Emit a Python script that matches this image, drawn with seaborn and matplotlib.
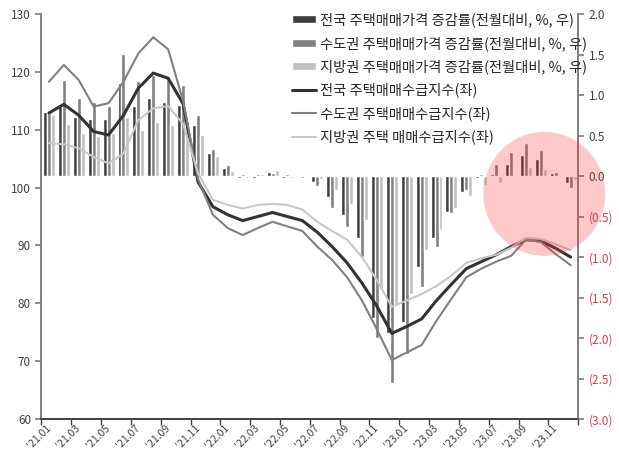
import numpy as np
import pandas as pd
import matplotlib
matplotlib.use('Agg')
import matplotlib.pyplot as plt
import seaborn as sns
from matplotlib.patches import Ellipse
from matplotlib.ticker import FixedLocator

# 월 (2021.01 ~ 2023.12)
months = [f"'{y}.{m:02d}" for y in (21, 22, 23) for m in range(1, 13)]

# 주택매매가격 증감률 (전월대비, %, 우축)
price_nat = [0.79, 0.89, 0.73, 0.71, 0.70, 1.15, 0.86, 0.96, 0.91, 0.88, 0.63, 0.29,
             0.10, -0.02, -0.02, 0.05, -0.02, -0.01, -0.07, -0.26, -0.48, -0.76, -1.75, -1.94,
             -1.80, -1.12, -0.77, -0.44, -0.20, -0.03, 0.03, 0.15, 0.26, 0.21, 0.04, -0.09]
price_cap = [0.78, 1.18, 0.96, 0.91, 0.86, 1.51, 1.17, 1.25, 1.23, 1.13, 0.76, 0.33,
             0.14, 0.03, 0.03, 0.04, 0.02, -0.02, -0.12, -0.39, -0.63, -1.00, -2.00, -2.56,
             -2.20, -1.37, -0.88, -0.46, -0.17, 0.03, 0.15, 0.30, 0.41, 0.32, 0.05, -0.15]
price_loc = [0.75, 0.64, 0.53, 0.49, 0.53, 0.73, 0.57, 0.67, 0.63, 0.67, 0.51, 0.25,
             0.06, -0.03, 0.02, 0.07, -0.02, 0.01, -0.04, -0.17, -0.34, -0.54, -1.40, -1.60,
             -1.45, -0.91, -0.67, -0.40, -0.25, -0.11, -0.08, 0.01, 0.11, 0.09, 0.01, -0.05]

# 주택매매수급지수 (좌축)
idx_nat = [112.9, 114.4, 112.5, 109.7, 109.1, 112.5, 117.2, 119.8, 118.9, 114.5, 101.0, 96.7,
           95.3, 94.3, 95.0, 95.7, 95.0, 94.3, 92.3, 89.8, 87.0, 83.5, 79.5, 74.8,
           76.0, 77.3, 80.5, 83.3, 86.0, 87.2, 88.4, 89.8, 91.0, 90.8, 89.5, 88.0]
idx_cap = [118.3, 121.2, 118.6, 114.0, 114.6, 118.3, 123.2, 126.0, 123.9, 115.0, 101.5, 95.3,
           93.0, 91.8, 93.0, 94.1, 93.3, 92.5, 89.8, 87.5, 84.5, 80.5, 75.5, 70.2,
           71.5, 72.8, 77.0, 80.8, 84.5, 86.0, 87.2, 88.2, 91.0, 90.6, 88.5, 86.6]
idx_loc = [107.7, 107.5, 106.8, 105.3, 104.2, 105.9, 111.7, 113.7, 114.1, 111.0, 102.5, 97.9,
           97.0, 96.4, 97.0, 97.2, 97.0, 96.2, 94.1, 92.5, 91.0, 88.0, 84.0, 79.4,
           80.5, 81.6, 83.0, 84.8, 87.0, 87.8, 88.4, 89.6, 91.3, 91.1, 90.2, 89.2]

bar_names = ['전국 주택매매가격 증감률(전월대비, %, 우)',
             '수도권 주택매매가격 증감률(전월대비, %, 우)',
             '지방권 주택매매가격 증감률(전월대비, %, 우)']
line_names = ['전국 주택매매수급지수(좌)',
              '수도권 주택매매수급지수(좌)',
              '지방권 주택 매매수급지수(좌)']
bar_colors = ['#3c3c3c', '#7f7f7f', '#c0c0c0']
line_colors = ['#333333', '#808080', '#c8c8c8']
line_widths = [2.2, 1.5, 1.5]

sns.set_theme(style='white')
plt.rcParams['font.family'] = ['Noto Sans CJK KR', 'DejaVu Sans']

bars = pd.DataFrame({
    'month': months * 3,
    'value': price_nat + price_cap + price_loc,
    'series': np.repeat(bar_names, len(months)),
})

fig = plt.figure(figsize=(6.19, 4.54), dpi=100)
ax = fig.add_axes([0.067, 0.077, 0.867, 0.892])
ax2 = ax.twinx()

# 막대 (우축)
sns.barplot(data=bars, x='month', y='value', hue='series', order=months,
            hue_order=bar_names, palette=bar_colors, width=0.8, gap=0,
            saturation=1, ax=ax, legend=True)
bar_h, bar_l = ax.get_legend_handles_labels()
ax.get_legend().remove()

# 선 (좌축)
pos = np.arange(len(months))
for vals, name, c, lw in zip([idx_nat, idx_cap, idx_loc], line_names, line_colors, line_widths):
    sns.lineplot(x=pos, y=vals, color=c, linewidth=lw, label=name, ax=ax2)
line_h, line_l = ax2.get_legend_handles_labels()
ax2.get_legend().remove()

# 축 설정: 막대 축은 오른쪽, 선 축은 왼쪽
ax.set_ylim(-3.0, 2.0)
ax.set_yticks(np.arange(-3.0, 2.01, 0.5))
ax.yaxis.tick_right()
ax.yaxis.set_label_position('right')
ax.set_yticklabels([f'({abs(v):.1f})' if v < -1e-9 else f'{v:.1f}' for v in ax.get_yticks()])
for t, v in zip(ax.get_yticklabels(), ax.get_yticks()):
    t.set_color('#e03c3c' if v < -1e-9 else '#404040')

ax2.set_ylim(60, 130)
ax2.set_yticks(range(60, 131, 10))
ax2.yaxis.tick_left()
ax2.yaxis.set_label_position('left')

ax.set_xlim(-0.5, len(months) - 0.5)
ax.set_xticks(pos[::2])
ax.set_xticklabels(months[::2], rotation=45, ha='right', va='center', rotation_mode='anchor')
ax.xaxis.set_minor_locator(FixedLocator(np.arange(-0.5, len(months), 2)))
ax.tick_params(axis='x', which='major', length=0, labelsize=7.5, colors='#404040', pad=5)
ax.tick_params(axis='x', which='minor', length=4, width=1, color='#404040', bottom=True)
ax.tick_params(axis='y', length=4, labelsize=8.5, color='#808080')
ax2.tick_params(axis='y', length=4, labelsize=8.5, colors='#404040', color='#808080')
ax.set_xlabel('')
ax.set_ylabel('')
ax2.set_ylabel('')

for a in (ax, ax2):
    a.spines['top'].set_visible(False)
    a.spines['left'].set_color('#808080')
    a.spines['right'].set_color('#808080')
    a.spines['bottom'].set_color('#404040')
    a.spines['left'].set_linewidth(1.2)
    a.spines['right'].set_linewidth(1.2)
    a.spines['bottom'].set_linewidth(1.2)

# 강조 원
circle = Ellipse((0.937, 0.556), 0.227, 0.306, transform=ax2.transAxes,
                 facecolor='#ff3030', alpha=0.26, edgecolor='none', clip_on=False, zorder=10)
ax2.add_patch(circle)

fig.legend(bar_h + line_h, bar_l + line_l, loc='upper left',
           bbox_to_anchor=(0.462, 0.985), frameon=False, fontsize=10.3,
           handlelength=1.7, handleheight=0.5, handletextpad=0.3,
           labelspacing=0.6, borderaxespad=0)

plt.savefig('out.png', dpi=100)
plt.close()
